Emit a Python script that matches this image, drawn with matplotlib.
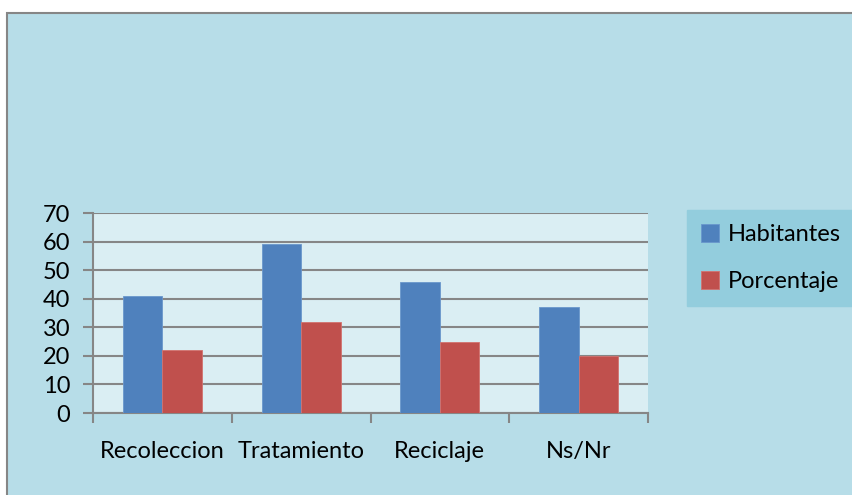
import numpy as np
import matplotlib
matplotlib.use("Agg")
import matplotlib.pyplot as plt
from matplotlib.patches import Rectangle

plt.rcParams.update({"font.family": ["Lato", "DejaVu Sans"]})

CATEGORIAS = ["Recoleccion", "Tratamiento", "Reciclaje", "Ns/Nr"]
HABITANTES = [41, 59, 46, 37]
PORCENTAJE = [22, 32, 25, 20]

AZUL, ROJO = "#4F81BD", "#C0504D"
FONDO, AREA, LEYENDA = "#B7DDE8", "#DAEEF3", "#93CDDD"
GRIS = "#868686"
FS = 17

W, H = 853, 495
fig = plt.figure(figsize=(W / 100, H / 100), dpi=100)
fig.patch.set_facecolor("white")

# marco del grafico (detras de los ejes), cortado por la derecha y abajo
fig.add_artist(Rectangle((7 / W, -0.1), 1.1, 1.1 - 13 / H,
                         transform=fig.transFigure, facecolor=FONDO,
                         edgecolor=GRIS, lw=1.5, zorder=-1))

ax = fig.add_axes([93 / W, 1 - 413 / H, (648 - 93) / W, (413 - 213) / H])
ax.set_facecolor(AREA)

x = np.arange(len(CATEGORIAS))
w = 0.285
ax.bar(x - w / 2, HABITANTES, w, color=AZUL, edgecolor="#6A97CC", lw=0.6,
       label="Habitantes", zorder=3)
ax.bar(x + w / 2, PORCENTAJE, w, color=ROJO, edgecolor="#D2726F", lw=0.6,
       label="Porcentaje", zorder=3)

ax.set_xlim(-0.5, len(CATEGORIAS) - 0.5)
ax.set_ylim(0, 70)
ax.set_yticks(range(0, 71, 10))
ax.yaxis.grid(True, color=GRIS, lw=1.5)
ax.set_axisbelow(True)

ax.set_xticks(np.arange(len(CATEGORIAS) + 1) - 0.5)
ax.set_xticklabels([])
ax.set_xticks(x, minor=True)
ax.set_xticklabels(CATEGORIAS, minor=True)
ax.tick_params(axis="x", which="major", length=7, width=1.5, color=GRIS)
ax.tick_params(axis="x", which="minor", length=0, pad=20, labelsize=FS)
ax.tick_params(axis="y", length=7, width=1.5, color=GRIS, labelsize=FS, pad=9.5)

for s in ["top", "right"]:
    ax.spines[s].set_visible(False)
for s in ["left", "bottom"]:
    ax.spines[s].set_color(GRIS)
    ax.spines[s].set_linewidth(1.5)

leg = fig.legend(loc="upper left", bbox_to_anchor=(687 / W, 1 - 210 / H),
                 frameon=True, fancybox=False, fontsize=FS,
                 handlelength=0.75, handleheight=0.75, handletextpad=0.4,
                 labelspacing=1.1, borderpad=0.6, borderaxespad=0)
leg.get_frame().set_facecolor(LEYENDA)
leg.get_frame().set_edgecolor(LEYENDA)
leg.get_frame().set_alpha(1)

fig.savefig("out.png", dpi=100)
